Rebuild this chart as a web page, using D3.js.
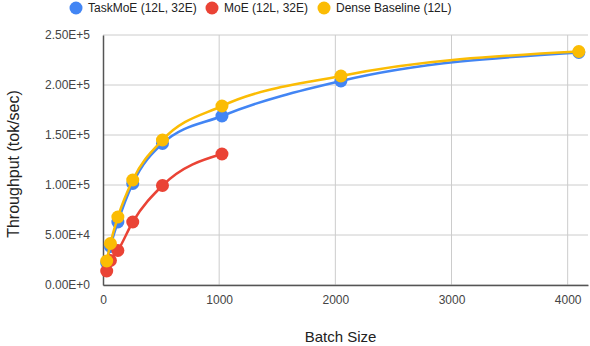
<!DOCTYPE html>
<html>
<head>
<meta charset="utf-8">
<script src="https://cdn.jsdelivr.net/npm/d3@7"></script>
<style>
  body { margin: 0; background: #fff; }
  svg { display: block; font-family: "Liberation Sans", Arial, sans-serif; }
</style>
</head>
<body>
<svg id="chart"></svg>
<script>
// batch sizes on the x axis
const batchSizes = [32, 64, 128, 256, 512, 1024, 2048, 4096]

// throughput per series (tok/sec)
const taskMoeValues = [22000, 38500, 63000, 101500, 141500, 169000, 204000, 232500]
const moeValues = [14000, 24500, 34500, 63000, 99500, 131000]
const denseValues = [24000, 41500, 68000, 105000, 145000, 179000, 209000, 233500]

const seriesNames = ['TaskMoE (12L, 32E)', 'MoE (12L, 32E)', 'Dense Baseline (12L)']
const seriesColours = ['#4285F4', '#EA4335', '#FBBC04']

const xTicks = [0, 1000, 2000, 3000, 4000]
const yTicks = [0, 50000, 100000, 150000, 200000, 250000]

const width = 590
const height = 346
const margin = { top: 35, right: 2, bottom: 61, left: 103 }
const fontFamily = '"Liberation Sans", Arial, sans-serif'

const svg = d3.select('#chart')
  .attr('width', width)
  .attr('height', height)

/// Scales ///
const xScale = d3.scaleLinear()
  .domain([0, 4175])
  .range([margin.left, width - margin.right])

const yScale = d3.scaleLinear()
  .domain([0, 250000])
  .range([height - margin.bottom, margin.top])

/// Grid lines ///
svg.append('g')
  .selectAll('line')
  .data(yTicks)
  .join('line')
    .attr('x1', margin.left)
    .attr('x2', width - margin.right)
    .attr('y1', d => yScale(d))
    .attr('y2', d => yScale(d))
    .attr('stroke', '#ccc')
    .attr('stroke-width', 1)

svg.append('g')
  .selectAll('line')
  .data(xTicks.filter(d => d > 0))
  .join('line')
    .attr('x1', d => xScale(d))
    .attr('x2', d => xScale(d))
    .attr('y1', yScale(0))
    .attr('y2', yScale(250000))
    .attr('stroke', '#ccc')
    .attr('stroke-width', 1)

/// Axes ///
const yAxis = g => g
  .attr('transform', `translate(${margin.left}, 0)`)
  .call(d3.axisLeft(yScale)
    .tickValues(yTicks)
    .tickSize(0)
    .tickPadding(13)
    .tickFormat(d => d3.format('.2e')(d).toUpperCase())
  )
  .call(g => g.select('.domain').attr('stroke', '#555').attr('stroke-width', 1.5))
  .call(g => g.selectAll('text')
    .attr('font-size', '12px')
    .attr('fill', '#444')
    .attr('font-family', fontFamily)
  )

const xAxis = g => g
  .attr('transform', `translate(0, ${height - margin.bottom})`)
  .call(d3.axisBottom(xScale)
    .tickValues(xTicks)
    .tickSize(0)
    .tickPadding(10)
    .tickFormat(d3.format('d'))
  )
  .call(g => g.select('.domain').attr('stroke', '#555').attr('stroke-width', 1.5))
  .call(g => g.selectAll('text')
    .attr('font-size', '12px')
    .attr('fill', '#444')
    .attr('font-family', fontFamily)
  )

svg.append('g').call(xAxis)
svg.append('g').call(yAxis)

/// Axis titles ///
svg.append('text')
  .attr('x', (margin.left + width - margin.right) / 2 - 5)
  .attr('y', 342)
  .attr('text-anchor', 'middle')
  .attr('font-size', '15px')
  .attr('fill', '#222')
  .text('Batch Size')

svg.append('text')
  .attr('transform', `translate(19, ${(margin.top + height - margin.bottom) / 2 + 4}) rotate(-90)`)
  .attr('text-anchor', 'middle')
  .attr('font-size', '16px')
  .attr('fill', '#222')
  .text('Throughput (tok/sec)')

/// Series ///
const allSeries = [taskMoeValues, moeValues, denseValues].map((vals, i) => ({
  name: seriesNames[i],
  colour: seriesColours[i],
  points: vals.map((v, j) => ({ x: batchSizes[j], y: v }))
}))

const line = d3.line()
  .x(d => xScale(d.x))
  .y(d => yScale(d.y))
  .curve(d3.curveMonotoneX)

allSeries.forEach(s => {
  const g = svg.append('g')
  g.append('path')
    .datum(s.points)
    .attr('d', line)
    .attr('fill', 'none')
    .attr('stroke', s.colour)
    .attr('stroke-width', 2.5)
  g.selectAll('circle')
    .data(s.points)
    .join('circle')
      .attr('cx', d => xScale(d.x))
      .attr('cy', d => yScale(d.y))
      .attr('r', 6.5)
      .attr('fill', s.colour)
})

/// Legend ///
const legendX = [76, 212, 324]
const legend = svg.append('g')
  .selectAll('g')
  .data(allSeries)
  .join('g')
    .attr('transform', (d, i) => `translate(${legendX[i]}, 8)`)

legend.append('circle')
  .attr('r', 6.5)
  .attr('fill', d => d.colour)

legend.append('text')
  .attr('x', 12)
  .attr('dy', '0.35em')
  .attr('font-size', '12px')
  .attr('fill', '#222')
  .attr('font-family', fontFamily)
  .text(d => d.name)
</script>
</body>
</html>
